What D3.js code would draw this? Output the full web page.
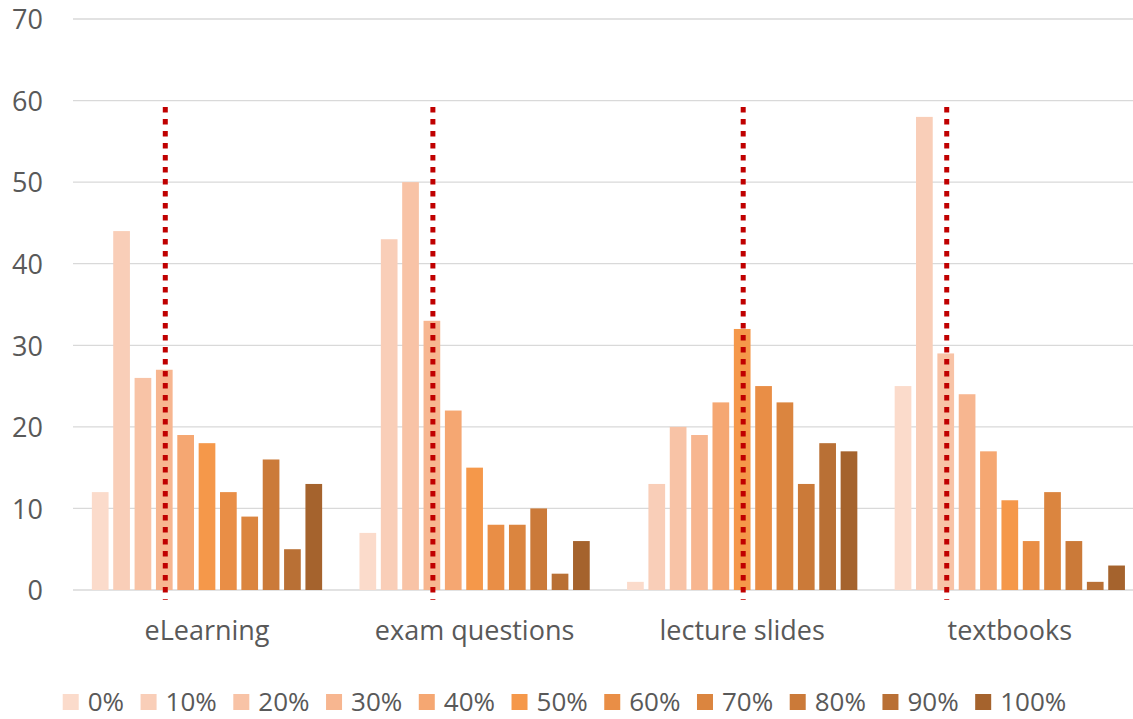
<!DOCTYPE html>
<html>
<head>
<meta charset="utf-8">
<script src="https://cdn.jsdelivr.net/npm/d3@7/dist/d3.min.js"></script>
<style>
  html, body { margin: 0; padding: 0; background: #fff; }
  svg { display: block; font-family: "Open Sans", "Noto Sans", sans-serif; }
</style>
</head>
<body>
<svg id="chart" width="1133" height="719"></svg>
<script>
// Materials and the share of use (0%–100%) answered by respondents
const categories = ["eLearning", "exam questions", "lecture slides", "textbooks"];
const series = ["0%", "10%", "20%", "30%", "40%", "50%", "60%", "70%", "80%", "90%", "100%"];

const eLearning     = [12, 44, 26, 27, 19, 18, 12,  9, 16,  5, 13];
const examQuestions = [ 7, 43, 50, 33, 22, 15,  8,  8, 10,  2,  6];
const lectureSlides = [ 1, 13, 20, 19, 23, 32, 25, 23, 13, 18, 17];
const textbooks     = [25, 58, 29, 24, 17, 11,  6, 12,  6,  1,  3];

// Median answer for each material (dotted red marker)
const medians = ["30%", "30%", "50%", "20%"];
// Vertical extent of the median markers, in axis units
const markerExtent = [59.2, -1.2];

const colors = ["#FBDBCB", "#F9CEB8", "#F8C3A6", "#F7B690", "#F5A772", "#F5984A",
                "#E98E46", "#DB853F", "#CB7A39", "#B97035", "#A5632D"];

const yTicks = [0, 10, 20, 30, 40, 50, 60, 70];

const valuesByCategory = [eLearning, examQuestions, lectureSlides, textbooks];

const svg = d3.select("#chart");
const W = 1133;
const textColor = "#595959";

const x0 = d3.scaleBand().domain(categories).range([73.2, 1143.6]).padding(0);
const x1 = d3.scaleBand().domain(series).range([0, x0.bandwidth()])
  .paddingInner(0.218).paddingOuter(0.874);
const y = d3.scaleLinear().domain([0, 70]).range([590, 19]);
const color = d3.scaleOrdinal().domain(series).range(colors);

// Gridlines
svg.append("g").selectAll("line")
  .data(yTicks)
  .join("line")
  .attr("x1", 73).attr("x2", W)
  .attr("y1", d => y(d)).attr("y2", d => y(d))
  .attr("stroke", "#D9D9D9")
  .attr("stroke-width", 1.3);

// Y axis labels
const yAxis = d3.axisLeft(y).tickValues(yTicks).tickSize(0).tickPadding(0);
const yg = svg.append("g").attr("transform", "translate(43,0)").call(yAxis);
yg.select(".domain").remove();
yg.selectAll("text")
  .attr("fill", textColor)
  .style("font-size", "27px")
  .style("font-family", "'Open Sans', sans-serif")
  .attr("dy", "0.36em");

// Bars
const groups = svg.append("g").selectAll("g")
  .data(categories)
  .join("g")
  .attr("transform", d => `translate(${x0(d)},0)`);

groups.selectAll("rect")
  .data((c, i) => series.map((s, j) => ({ s, v: valuesByCategory[i][j] })))
  .join("rect")
  .attr("x", d => x1(d.s))
  .attr("width", x1.bandwidth())
  .attr("y", d => y(d.v))
  .attr("height", d => y(0) - y(d.v))
  .attr("fill", d => color(d.s));

// Category labels
const xAxis = d3.axisBottom(x0).tickSize(0).tickPadding(0);
const xg = svg.append("g").attr("transform", "translate(0,640)").call(xAxis);
xg.select(".domain").remove();
xg.selectAll("text")
  .attr("fill", textColor)
  .attr("dy", 0)
  .style("font-size", "27px")
  .style("font-family", "'Open Sans', sans-serif");

// Median markers
svg.append("g").selectAll("line")
  .data(categories.map((c, i) => ({ c, m: medians[i] })))
  .join("line")
  .attr("x1", d => x0(d.c) + x1(d.m) + x1.bandwidth() / 2 + 1)
  .attr("x2", d => x0(d.c) + x1(d.m) + x1.bandwidth() / 2 + 1)
  .attr("y1", y(markerExtent[0]))
  .attr("y2", y(markerExtent[1]))
  .attr("stroke", "#C00000")
  .attr("stroke-width", 5)
  .attr("stroke-dasharray", "5.3 6.7");

// Legend
const legend = svg.append("g");
const sq = 16, gapText = 9, gapItem = 16.5;
let cursor = 0;
series.forEach(s => {
  const item = legend.append("g").attr("transform", `translate(${cursor},0)`);
  item.append("rect")
    .attr("x", 0).attr("y", 694)
    .attr("width", sq).attr("height", sq)
    .attr("fill", color(s));
  const t = item.append("text")
    .attr("x", sq + gapText).attr("y", 711)
    .attr("fill", textColor)
    .style("font-size", "26px")
    .text(s);
  cursor += sq + gapText + t.node().getComputedTextLength() + gapItem;
});
const legendWidth = cursor - gapItem;
legend.attr("transform", `translate(${(W - legendWidth) / 2 - 2},0)`);
</script>
</body>
</html>
